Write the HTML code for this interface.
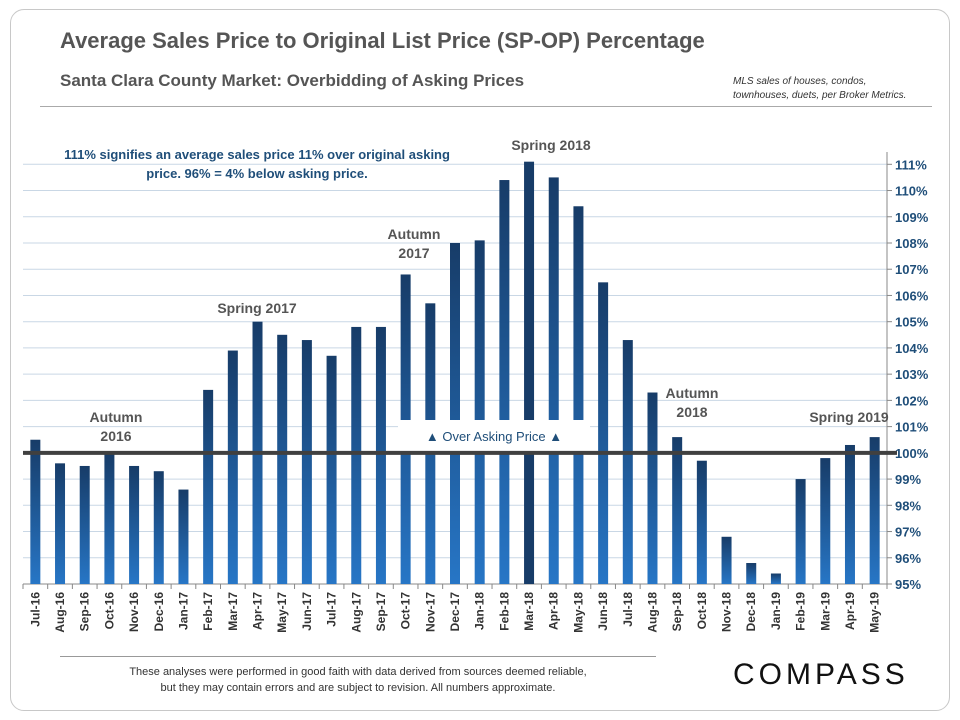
<!DOCTYPE html>
<html><head><meta charset="utf-8"><style>
body{margin:0;width:960px;height:720px;background:#fff;font-family:"Liberation Sans",sans-serif;overflow:hidden;position:relative}
.frame{position:absolute;left:10px;top:9px;width:938px;height:700px;border:1px solid #c8c8c8;border-radius:14px}
.t{position:absolute;color:#555;font-weight:bold}
</style></head><body>
<div class="frame"></div>
<div class="t" style="left:60px;top:28px;font-size:22px">Average Sales Price to Original List Price (SP-OP) Percentage</div>
<div class="t" style="left:60px;top:71px;font-size:17px">Santa Clara County Market: Overbidding of Asking Prices</div>
<div style="position:absolute;left:733px;top:75px;font-size:10px;font-style:italic;color:#333;line-height:14px">MLS sales of houses, condos,<br>townhouses, duets, per Broker Metrics.</div>
<div style="position:absolute;left:40px;top:106px;width:892px;height:1px;background:#aaa"></div>
<svg id="chart" width="960" height="720" style="position:absolute;left:0;top:0"></svg>
<div style="position:absolute;left:60px;top:656px;width:596px;height:1px;background:#999"></div>
<div style="position:absolute;left:60px;top:664px;width:596px;text-align:center;font-size:11px;color:#333;line-height:16px">These analyses were performed in good faith with data derived from sources deemed reliable,<br>but they may contain errors and are subject to revision. All numbers approximate.</div>
<div style="position:absolute;left:733px;top:658px;font-size:30px;letter-spacing:4px;color:#111">COMPASS</div>
<script>
const categories=["Jul-16","Aug-16","Sep-16","Oct-16","Nov-16","Dec-16","Jan-17","Feb-17","Mar-17","Apr-17","May-17","Jun-17","Jul-17","Aug-17","Sep-17","Oct-17","Nov-17","Dec-17","Jan-18","Feb-18","Mar-18","Apr-18","May-18","Jun-18","Jul-18","Aug-18","Sep-18","Oct-18","Nov-18","Dec-18","Jan-19","Feb-19","Mar-19","Apr-19","May-19"];
const values=[100.5,99.6,99.5,100.0,99.5,99.3,98.6,102.4,103.9,105.0,104.5,104.3,103.7,104.8,104.8,106.8,105.7,108.0,108.1,110.4,111.1,110.5,109.4,106.5,104.3,102.3,100.6,99.7,96.8,95.8,95.4,99.0,99.8,100.3,100.6];
const yTicks=[95,96,97,98,99,100,101,102,103,104,105,106,107,108,109,110,111];
const NS="http://www.w3.org/2000/svg";
const svg=document.getElementById('chart');
const x0=23,x1=887,yMin=95,yMax=111,py0=584,py1=164.3;
const slot=(x1-x0)/categories.length;
function y(v){return py0-(v-yMin)/(yMax-yMin)*(py0-py1);}
function xc(i){return x0+slot*(i+0.5);}
function el(t,a){const e=document.createElementNS(NS,t);for(const k in a)e.setAttribute(k,a[k]);svg.appendChild(e);return e;}
const defs=el('defs',{});
defs.innerHTML='<linearGradient id="g" x1="0" y1="0" x2="0" y2="1"><stop offset="0" stop-color="#173c68"/><stop offset="1" stop-color="#2776c6"/></linearGradient>';
yTicks.forEach(v=>{
 const g=el('line',{x1:x0,x2:x1,y1:y(v),y2:y(v),stroke:'#c9d7e5','stroke-width':1});
 
 
 el('line',{x1:x1,x2:x1+5,y1:y(v),y2:y(v),stroke:'#888'});
 const t=el('text',{x:x1+8,y:y(v)+5,'font-size':13,'font-weight':'bold',fill:'#1f4e79','font-family':'Liberation Sans'});
 t.textContent=v+'%';
 
 
});
el('line',{x1:x1,x2:x1,y1:py0,y2:152,stroke:'#888'});
el('line',{x1:x0,x2:x1,y1:py0,y2:py0,stroke:'#888'});
values.forEach((v,i)=>{
 const b=el('rect',{x:xc(i)-5,y:y(v),width:10,height:py0-y(v),fill:categories[i]==='Mar-18'?'#173c68':'url(#g)'});
 
 
 el('line',{x1:x0+slot*i,x2:x0+slot*i,y1:py0,y2:py0+5,stroke:'#888'});
 const t=el('text',{transform:`translate(${xc(i)+4},${py0+8}) rotate(-90)`,'text-anchor':'end','font-size':12,'font-weight':'bold',fill:'#333','font-family':'Liberation Sans'});
 t.textContent=categories[i];
 
 
});
el('line',{x1:x0+slot*35,x2:x0+slot*35,y1:py0,y2:py0+5,stroke:'#888'});
const box=el('rect',{x:398,y:420,width:192,height:31,fill:'#fff'});


const ob=el('text',{x:494,y:441,'text-anchor':'middle','font-size':13,fill:'#1f4e79','font-family':'Liberation Sans'});
ob.textContent='▲ Over Asking Price ▲';


const ref=el('line',{x1:x0,x2:x1+10,y1:y(100),y2:y(100),stroke:'#404040','stroke-width':4});


function ann(lines,x,yy,name,col,size){lines.forEach((s,k)=>{const t=el('text',{x:x,y:yy+k*19,'text-anchor':'middle','font-size':size||14,'font-weight':'bold',fill:col||'#555','font-family':'Liberation Sans'});t.textContent=s;
 
 });}
ann(['Autumn','2016'],116,422,'annotation-autumn-2016');
ann(['Spring 2017'],257,313,'annotation-spring-2017');
ann(['Autumn','2017'],414,239,'annotation-autumn-2017');
ann(['Spring 2018'],551,150,'annotation-spring-2018');
ann(['Autumn','2018'],692,398,'annotation-autumn-2018');
ann(['Spring 2019'],849,422,'annotation-spring-2019');
ann(['111% signifies an average sales price 11% over original asking','price. 96% = 4% below asking price.'],257,159,'explanation-note','#1f4e79',13);
</script>
</body></html>
